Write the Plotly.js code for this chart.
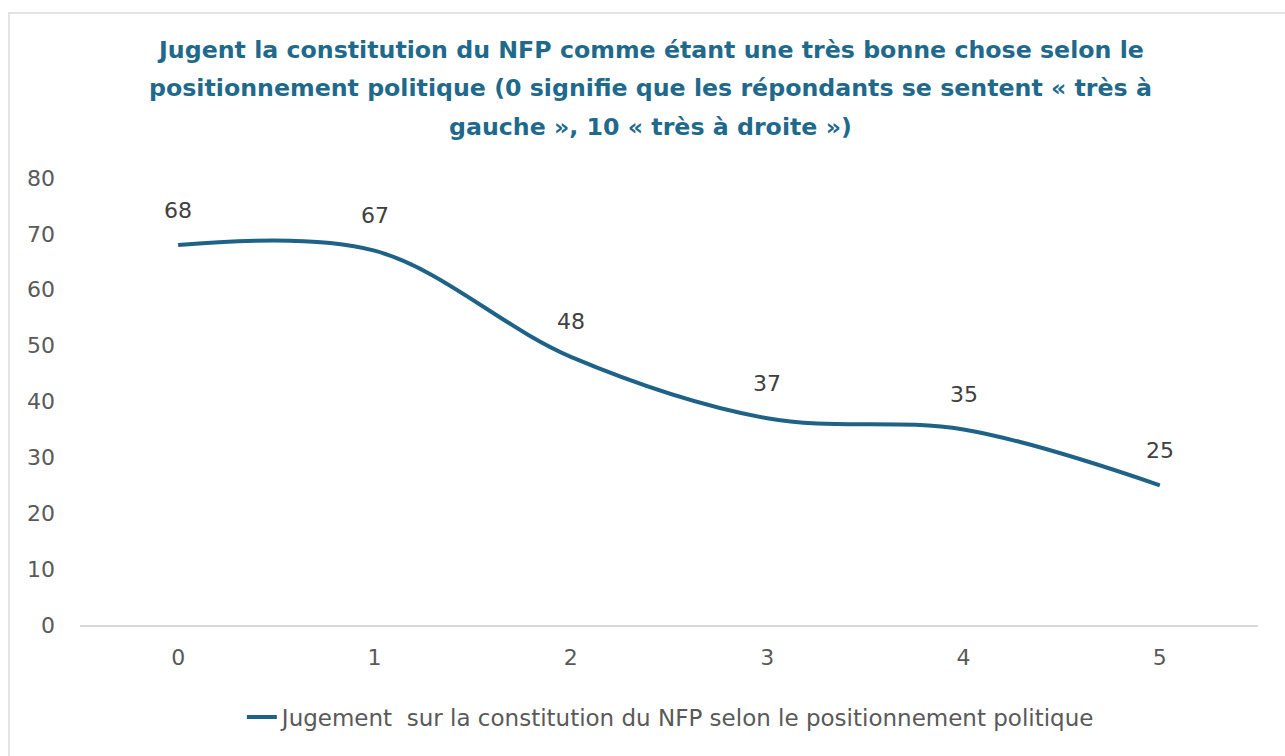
<!DOCTYPE html>
<html>
<head>
<meta charset="utf-8">
<script src="https://cdn.plot.ly/plotly-3.0.1.min.js"></script>
<style>
  html, body { margin: 0; padding: 0; background: #fff; overflow: hidden; }
  #frame { position: absolute; left: 8px; top: 12px; width: 1300px; height: 780px;
    border: 2px solid #e3e3e3; box-sizing: border-box; }
  #chart { position: absolute; left: 0; top: 0; width: 1285px; height: 756px; }
</style>
</head>
<body>
<div id="frame"></div>
<div id="chart"></div>
<script>
// positionnement politique (0 = très à gauche) -> % jugeant le NFP très bonne chose
const positions = ['0', '1', '2', '3', '4', '5'];
const values = [68, 67, 48, 37, 35, 25];
const seriesName = 'Jugement  sur la constitution du NFP selon le positionnement politique';
const titleLines = [
  'Jugent la constitution du NFP comme étant une très bonne chose selon le',
  'positionnement politique (0 signifie que les répondants se sentent « très à',
  'gauche », 10 « très à droite »)',
];

const LINE = '#1f6287', GREY = '#595959', TITLE = '#1f6a8c';
const FONT = '"DejaVu Sans", "Liberation Sans", sans-serif';

const trace = {
  x: positions, y: values, type: 'scatter', mode: 'lines', name: seriesName,
  line: { color: LINE, width: 4, shape: 'spline', smoothing: 1 },
  hoverinfo: 'skip',
};

const labels = positions.map((p, i) => ({
  x: p, y: values[i], text: String(values[i]), showarrow: false,
  yanchor: 'middle', yshift: 35, font: { size: 22, color: '#404040' },
}));

// title drawn as three lines (Excel-like wide line spacing)
const titleY = [1.286, 1.201, 1.114];
const titleAnn = titleLines.map((t, i) => ({
  xref: 'paper', yref: 'paper', x: 0.484, y: titleY[i], xanchor: 'center', yanchor: 'middle',
  text: t, showarrow: false, font: { size: 23.7, color: TITLE, family: FONT, weight: 700 },
}));

Plotly.newPlot('chart', [trace], {
  width: 1285, height: 756,
  paper_bgcolor: 'rgba(0,0,0,0)', plot_bgcolor: 'rgba(0,0,0,0)',
  font: { family: FONT, color: GREY, size: 22 },
  margin: { l: 80, r: 27, t: 178, b: 131 },
  xaxis: { type: 'category', range: [-0.5, 5.5], showgrid: false, zeroline: false, showline: true,
    linecolor: '#d9d9d9', linewidth: 2, ticks: '', ticklabelstandoff: 12,
    tickfont: { size: 22, color: GREY } },
  yaxis: { range: [0, 80], dtick: 10, showgrid: false, zeroline: false, showline: false,
    ticks: '', ticklabelstandoff: 24, tickfont: { size: 22, color: GREY } },
  showlegend: true,
  legend: { orientation: 'h', x: 0.502, xanchor: 'center', y: -0.206, yanchor: 'middle',
    font: { size: 23, color: GREY } },
  annotations: [...titleAnn, ...labels],
}, { staticPlot: true });
</script>
</body>
</html>
